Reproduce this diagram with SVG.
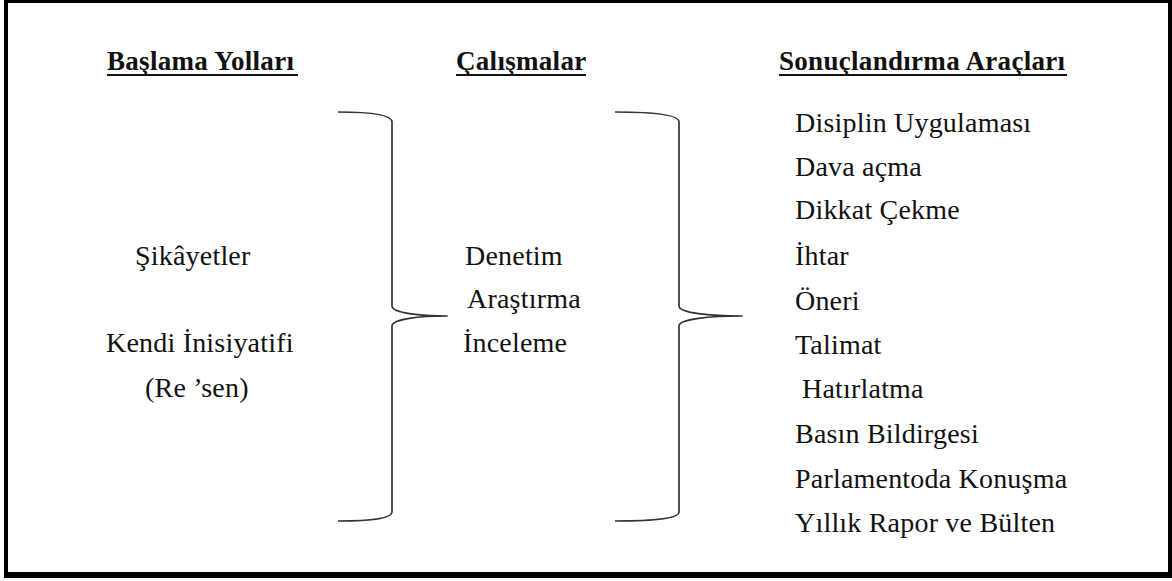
<svg xmlns="http://www.w3.org/2000/svg" width="1172" height="581" viewBox="0 0 1172 581">
  <style>
    text { font-family: "Liberation Serif", "Times New Roman", serif; font-size: 28px; fill: #111; letter-spacing: 0.2px; }
    .head { font-weight: bold; font-size: 27px; letter-spacing: 0.3px; }
    .uline { stroke: #111; stroke-width: 2; }
    .brace { fill: none; stroke: #333; stroke-width: 1.7; stroke-linejoin: round; }
  </style>

  <!-- frame with heavier bottom/right edge -->
  <rect x="0" y="0" width="1172" height="581" fill="#fff"/>
  <rect x="4" y="0" width="1168" height="578" fill="#000"/>
  <rect x="8" y="3" width="1160" height="569" fill="#fff"/>

  <!-- column headings -->
  <g id="head-baslama">
    <text class="head" x="107" y="70">Başlama Yolları</text>
    <line class="uline" x1="107" y1="75" x2="298" y2="75"/>
  </g>
  <g id="head-calismalar">
    <text class="head" x="456" y="70">Çalışmalar</text>
    <line class="uline" x1="456" y1="75" x2="586" y2="75"/>
  </g>
  <g id="head-sonuc">
    <text class="head" x="779" y="70">Sonuçlandırma Araçları</text>
    <line class="uline" x1="779" y1="75" x2="1067" y2="75"/>
  </g>

  <!-- starting paths -->
  <g id="node-baslama">
    <text x="135" y="265">Şikâyetler</text>
    <text x="106" y="352">Kendi İnisiyatifi</text>
    <text x="145" y="397">(Re ’sen)</text>
  </g>

  <!-- activities -->
  <g id="node-calismalar">
    <text x="465" y="265">Denetim</text>
    <text x="467" y="308">Araştırma</text>
    <text x="463" y="352">İnceleme</text>
  </g>

  <!-- outcomes -->
  <g id="node-sonuc">
    <text x="795" y="132">Disiplin Uygulaması</text>
    <text x="795" y="176">Dava açma</text>
    <text x="795" y="219">Dikkat Çekme</text>
    <text x="795" y="265">İhtar</text>
    <text x="795" y="310">Öneri</text>
    <text x="795" y="354">Talimat</text>
    <text x="802" y="398">Hatırlatma</text>
    <text x="795" y="443">Basın Bildirgesi</text>
    <text x="795" y="488">Parlamentoda Konuşma</text>
    <text x="795" y="532">Yıllık Rapor ve Bülten</text>
  </g>

  <!-- grouping braces -->
  <g id="connectors">
    <path class="brace" d="M338,112 C368,112 392,114 392,122 L392,306 C392,313 420,316 447,316 C420,316 392,319 392,326 L392,512 C392,519 368,521 338,521"/>
    <path class="brace" d="M615,112 C650,112 679,114 679,122 L679,306 C679,313 710,316 742,316 C710,316 679,319 679,326 L679,512 C679,519 650,521 615,521"/>
  </g>
</svg>
